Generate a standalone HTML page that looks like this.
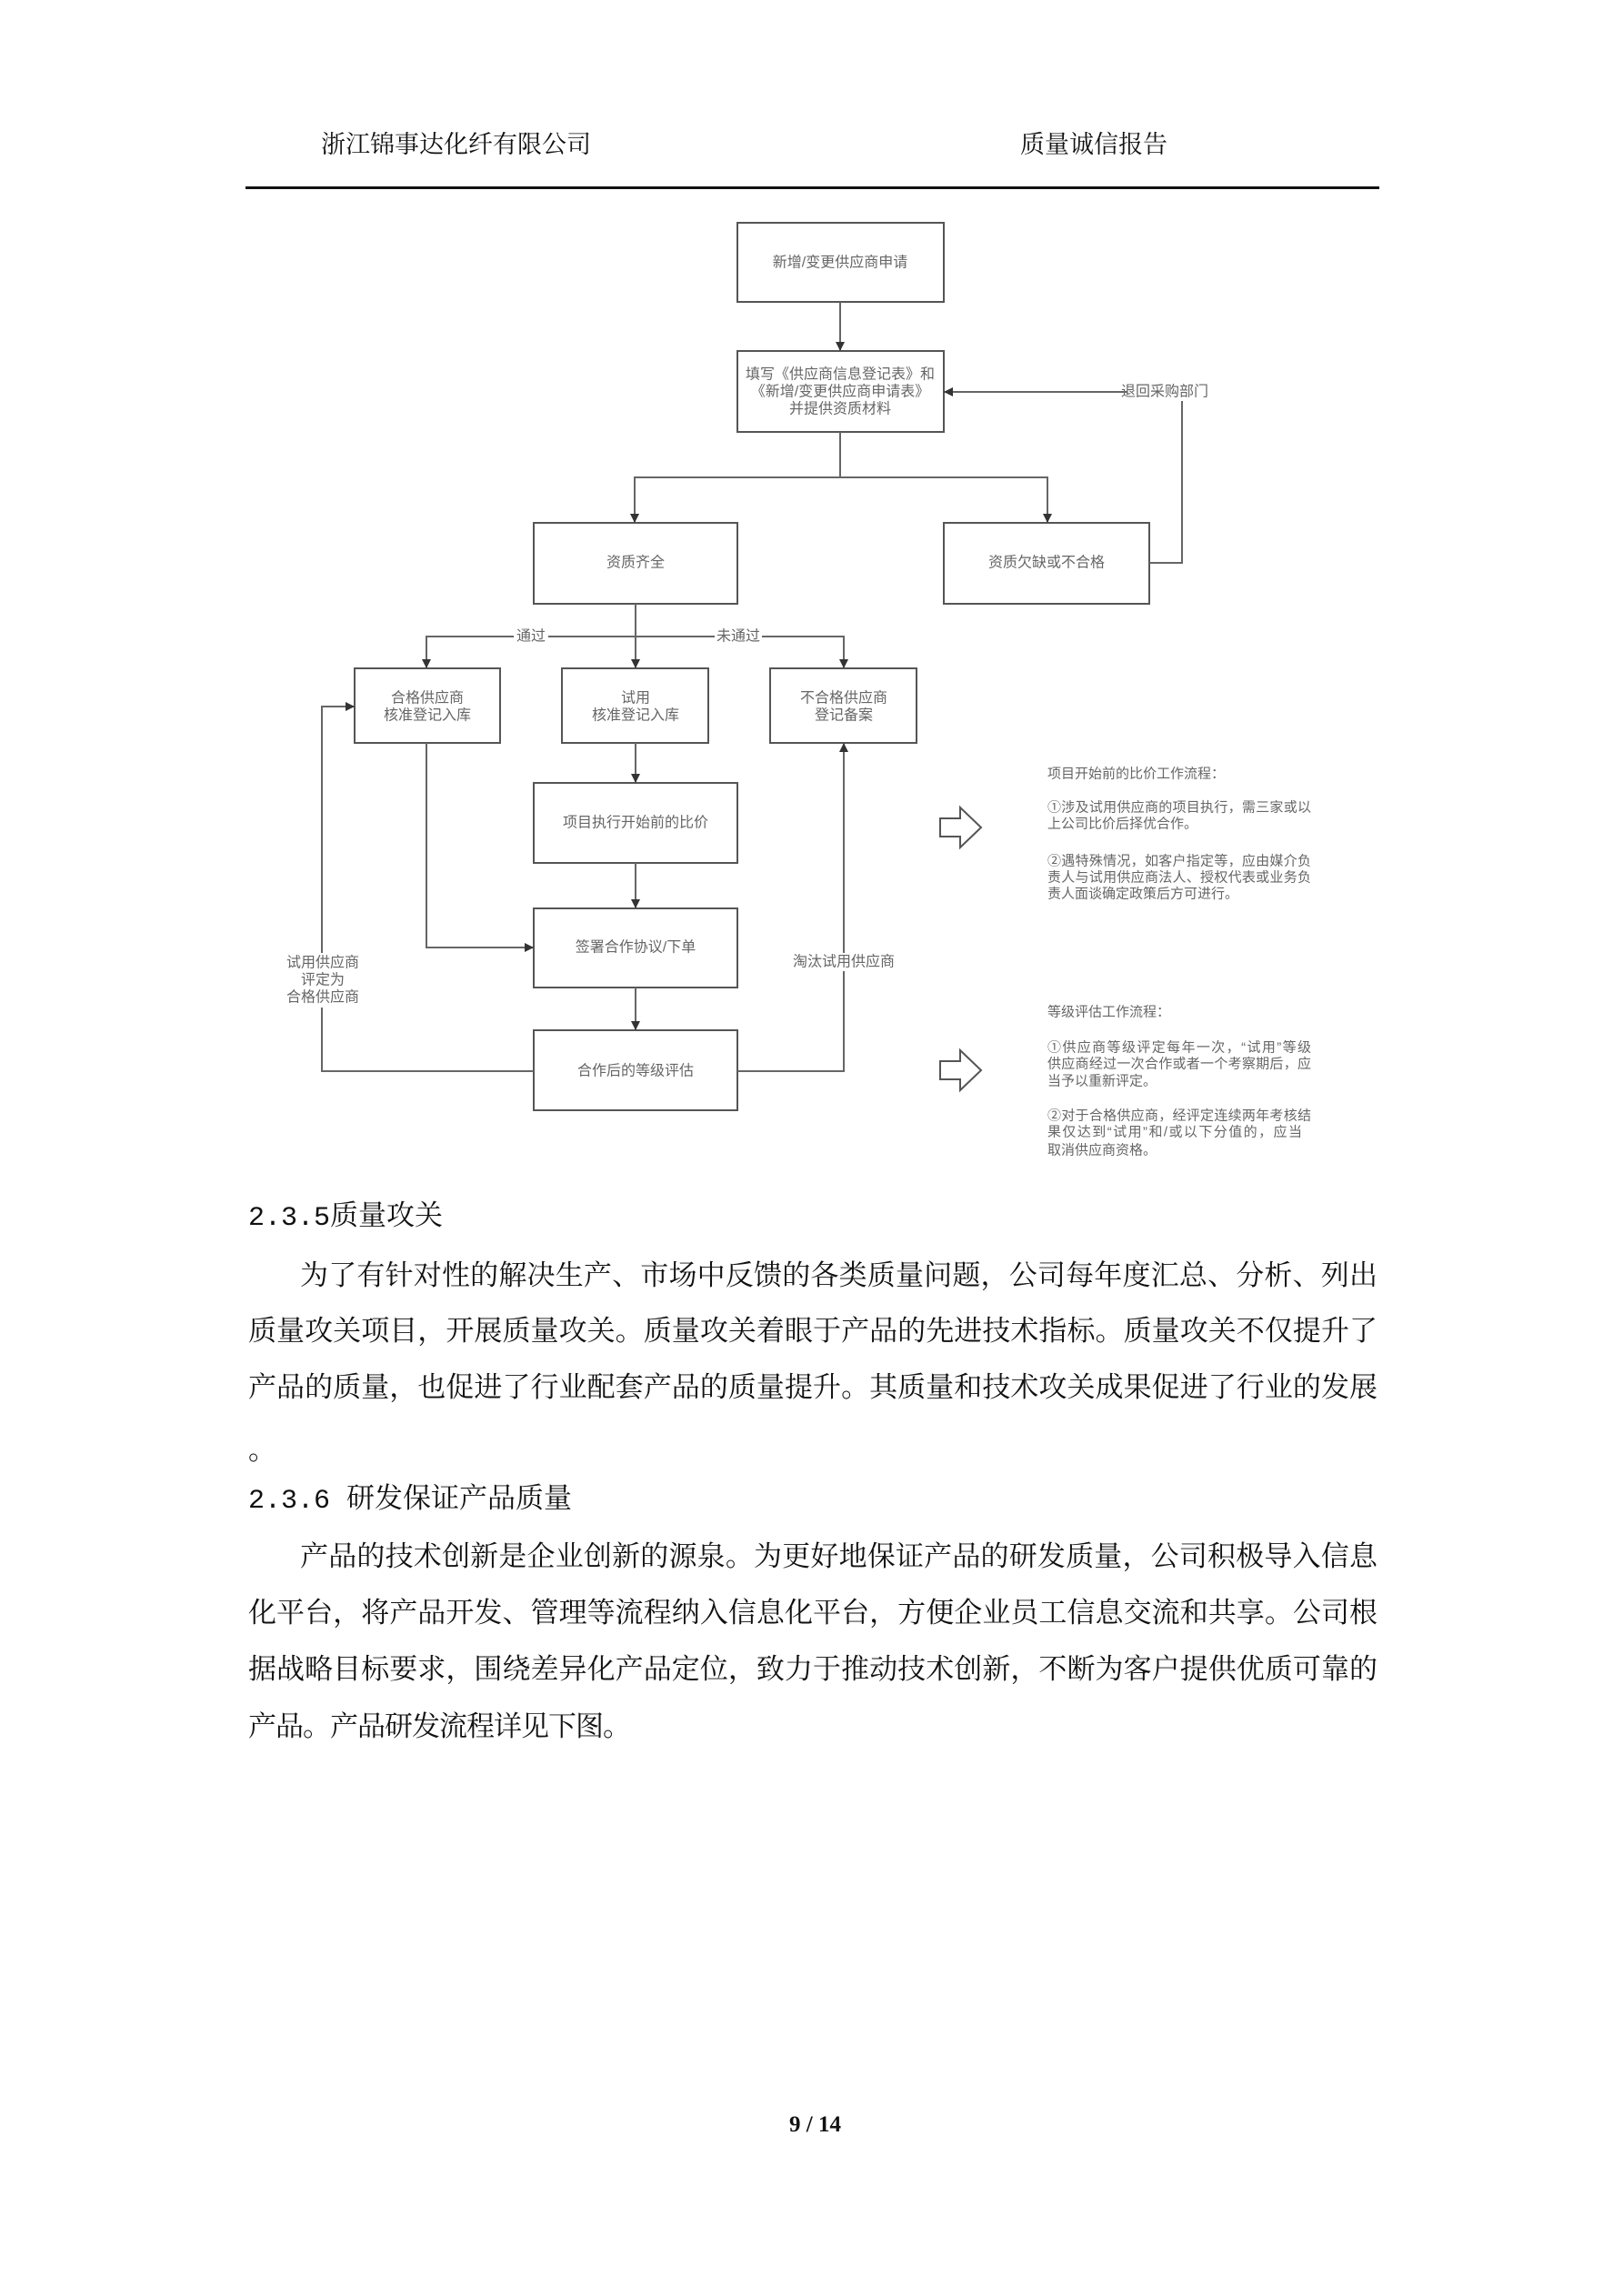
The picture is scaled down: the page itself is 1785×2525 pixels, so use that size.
<!DOCTYPE html>
<html><head><meta charset="utf-8">
<style>
html,body{margin:0;padding:0;background:#fff;}
body{width:1785px;height:2525px;position:relative;overflow:hidden;}
.t{position:absolute;font-family:"Liberation Serif","Noto Serif CJK SC",serif;color:#111;white-space:nowrap;}
.j{position:absolute;left:273px;width:1242px;height:40px;line-height:40px;font-size:31px;font-family:"Liberation Serif","Noto Serif CJK SC",serif;color:#111;text-align:justify;text-align-last:justify;white-space:nowrap;}
</style></head><body>
<div class="t" style="left:353px;top:142px;font-size:27px;line-height:34px;">浙江锦事达化纤有限公司</div>
<div class="t" style="left:1122px;top:142px;font-size:27px;line-height:34px;">质量诚信报告</div>
<div style="position:absolute;left:270px;top:205px;width:1247px;height:3px;background:#111;"></div>

<svg style="position:absolute;left:0;top:0" width="1785" height="1320" xmlns="http://www.w3.org/2000/svg">
<defs><marker id="a" markerWidth="10" markerHeight="10" refX="9" refY="5" orient="auto" markerUnits="userSpaceOnUse"><path d="M0,0 L10,5 L0,10 z" fill="#333"/></marker></defs>
<g fill="#fff" stroke="#555" stroke-width="2">
<rect x="811" y="245" width="227" height="87"/>
<rect x="811" y="386" width="227" height="89"/>
<rect x="587" y="575" width="224" height="89"/>
<rect x="1038" y="575" width="226" height="89"/>
<rect x="390" y="735" width="160" height="82"/>
<rect x="618" y="735" width="161" height="82"/>
<rect x="847" y="735" width="161" height="82"/>
<rect x="587" y="861" width="224" height="88"/>
<rect x="587" y="999" width="224" height="87"/>
<rect x="587" y="1133" width="224" height="88"/>
</g>
<g fill="none" stroke="#666" stroke-width="2">
<path d="M924,332 V385" marker-end="url(#a)"/>
<path d="M924,475 V525 H698 V574" marker-end="url(#a)"/>
<path d="M924,525 H1152 V574" marker-end="url(#a)"/>
<path d="M1264,619 H1300 V431 H1039" marker-end="url(#a)"/>
<path d="M699,664 V734" marker-end="url(#a)"/>
<path d="M699,700 H469 V734" marker-end="url(#a)"/>
<path d="M699,700 H928 V734" marker-end="url(#a)"/>
<path d="M699,817 V860" marker-end="url(#a)"/>
<path d="M699,949 V998" marker-end="url(#a)"/>
<path d="M699,1086 V1132" marker-end="url(#a)"/>
<path d="M469,817 V1042 H586" marker-end="url(#a)"/>
<path d="M587,1178 H354 V777 H389" marker-end="url(#a)"/>
<path d="M811,1178 H928 V818" marker-end="url(#a)"/>
</g>
<g fill="#fff" stroke="#555" stroke-width="2">
<path d="M1034,900 H1056 V888 L1079,910 L1056,932 V920 H1034 z"/>
<path d="M1034,1167 H1056 V1155 L1079,1177 L1056,1199 V1187 H1034 z"/>
</g>
<g font-family="Liberation Sans,Noto Sans CJK SC,sans-serif" font-size="16" fill="#666" text-anchor="middle" dominant-baseline="central">
<text x="924" y="289">新增/变更供应商申请</text>
<text x="924" y="412">填写《供应商信息登记表》和</text>
<text x="924" y="431">《新增/变更供应商申请表》</text>
<text x="924" y="450">并提供资质材料</text>
<rect x="1240" y="421" width="82" height="20" fill="#fff"/>
<text x="1281" y="431">退回采购部门</text>
<text x="699" y="619">资质齐全</text>
<text x="1151" y="619">资质欠缺或不合格</text>
<rect x="565" y="690" width="38" height="20" fill="#fff"/>
<text x="584" y="700">通过</text>
<rect x="786" y="690" width="52" height="20" fill="#fff"/>
<text x="812" y="700">未通过</text>
<text x="470" y="768">合格供应商</text>
<text x="470" y="787">核准登记入库</text>
<text x="699" y="768">试用</text>
<text x="699" y="787">核准登记入库</text>
<text x="928" y="768">不合格供应商</text>
<text x="928" y="787">登记备案</text>
<text x="699" y="905">项目执行开始前的比价</text>
<text x="699" y="1042">签署合作协议/下单</text>
<text x="699" y="1178">合作后的等级评估</text>
<rect x="310" y="1048" width="90" height="60" fill="#fff"/>
<text x="355" y="1059">试用供应商</text>
<text x="355" y="1078">评定为</text>
<text x="355" y="1097">合格供应商</text>
<rect x="872" y="1048" width="112" height="20" fill="#fff"/>
<text x="928" y="1058">淘汰试用供应商</text>
</g>
<g font-family="Liberation Sans,Noto Sans CJK SC,sans-serif" font-size="15" fill="#666" dominant-baseline="central">
<text x="1152" y="851">项目开始前的比价工作流程：</text>
<text x="1152" y="888" textLength="290">①涉及试用供应商的项目执行，需三家或以</text>
<text x="1152" y="906">上公司比价后择优合作。</text>
<text x="1152" y="947" textLength="290">②遇特殊情况，如客户指定等，应由媒介负</text>
<text x="1152" y="965" textLength="290">责人与试用供应商法人、授权代表或业务负</text>
<text x="1152" y="983">责人面谈确定政策后方可进行。</text>
<text x="1152" y="1113">等级评估工作流程：</text>
<text x="1152" y="1152" textLength="290">①供应商等级评定每年一次，“试用”等级</text>
<text x="1152" y="1170" textLength="290">供应商经过一次合作或者一个考察期后，应</text>
<text x="1152" y="1189">当予以重新评定。</text>
<text x="1152" y="1227" textLength="290">②对于合格供应商，经评定连续两年考核结</text>
<text x="1152" y="1245" textLength="280">果仅达到“试用”和/或以下分值的，应当</text>
<text x="1152" y="1265">取消供应商资格。</text>
</g>
</svg>

<div class="t" style="left:273px;top:1317px;font-size:31px;line-height:40px;"><span style="font-family:'Liberation Mono',monospace;font-size:30px">2.3.5</span>质量攻关</div>
<div class="j" style="left:330px;width:1185px;top:1383px;">为了有针对性的解决生产、市场中反馈的各类质量问题，公司每年度汇总、分析、列出</div>
<div class="j" style="top:1444px;">质量攻关项目，开展质量攻关。质量攻关着眼于产品的先进技术指标。质量攻关不仅提升了</div>
<div class="j" style="top:1506px;">产品的质量，也促进了行业配套产品的质量提升。其质量和技术攻关成果促进了行业的发展</div>
<div class="t" style="left:273px;top:1575px;font-size:31px;line-height:40px;">。</div>
<div class="t" style="left:273px;top:1628px;font-size:31px;line-height:40px;"><span style="font-family:'Liberation Mono',monospace;font-size:30px">2.3.6 </span>研发保证产品质量</div>
<div class="j" style="left:330px;width:1185px;top:1692px;">产品的技术创新是企业创新的源泉。为更好地保证产品的研发质量，公司积极导入信息</div>
<div class="j" style="top:1754px;">化平台，将产品开发、管理等流程纳入信息化平台，方便企业员工信息交流和共享。公司根</div>
<div class="j" style="top:1816px;">据战略目标要求，围绕差异化产品定位，致力于推动技术创新，不断为客户提供优质可靠的</div>
<div class="t" style="left:273px;top:1879px;font-size:31px;line-height:40px;letter-spacing:-1px;">产品。产品研发流程详见下图。</div>
<div class="t" style="left:868px;top:2322px;font-size:25px;line-height:30px;font-weight:bold;">9 / 14</div>
</body></html>
